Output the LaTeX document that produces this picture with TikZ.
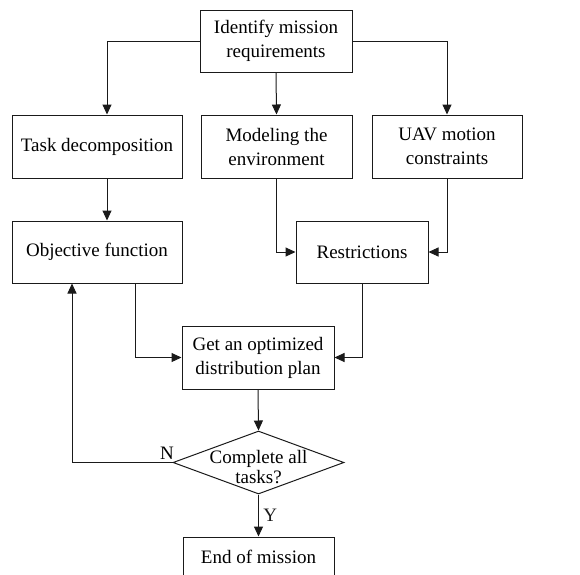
\documentclass[tikz,border=0pt]{standalone}
\usepackage{fontspec}
\setmainfont{Liberation Serif}
\usepackage{tikz}
\usetikzlibrary{arrows.meta,shapes.geometric,calc}
\definecolor{lineblack}{HTML}{1A1A1A}
\tikzset{every node/.append style={font=\fontsize{19}{24}\selectfont}}

\begin{document}
\begin{tikzpicture}[x=1pt,y=-1pt,>={Triangle[length=10pt,width=9pt]},
  box/.style={draw=lineblack,line width=1pt,align=center,inner sep=0pt,minimum height=62pt},
  decision/.style={diamond,draw=lineblack,line width=1pt,inner sep=0pt,minimum width=171pt,minimum height=63pt},
  flow/.style={->,line width=1pt,lineblack}]
  \useasboundingbox (0,0) rectangle (580,574);
  \node[box,minimum width=152pt] (ident) at (276,41) {Identify mission\\requirements};
  \node[box,minimum width=170pt,minimum height=63pt] (task) at (97,146.5) {Task decomposition};
  \node[box,minimum width=151pt,minimum height=63pt] (model) at (276.5,146.5) {Modeling the\\environment};
  \node[box,minimum width=150pt,minimum height=63pt] (uav) at (447,146.5) {UAV motion\\constraints};
  \node[box,minimum width=170pt] (obj) at (97,252) {Objective function};
  \node[box,minimum width=132pt] (restr) at (362,252) {Restrictions};
  \node[box,minimum width=152pt,minimum height=63pt] (plan) at (258,357.5) {Get an optimized\\distribution plan};
  \node[decision,label={[align=center,font=\fontsize{19}{20}\selectfont,yshift=-5pt]center:Complete all\\tasks?}] (dec) at (258.5,462.5) {};
  \node[box,minimum width=151pt,minimum height=40pt] (end) at (258.5,557) {End of mission};
  \coordinate (tasktop) at ([xshift=10pt]task.north);
  \coordinate (taskbot) at ([xshift=10pt]task.south);
  \coordinate (objtop) at ([xshift=10pt]obj.north);
  \coordinate (objout) at ([xshift=38pt]obj.south);
  \coordinate (objin) at ([xshift=-25pt]obj.south);
  \draw[flow] (ident.west) -| (tasktop);
  \draw[flow] (ident.south) -- (model.north);
  \draw[flow] (ident.east) -| (uav.north);
  \draw[flow] (taskbot) -- (objtop);
  \draw[flow] (model.south) |- (restr.west);
  \draw[flow] (uav.south) |- (restr.east);
  \draw[flow] (objout) |- (plan.west);
  \draw[flow] (restr.south) |- (plan.east);
  \draw[flow] (plan.south) -- (dec.north);
  \draw[flow] (dec.west) -| (objin);
  \draw[flow] (dec.south) -- (end.north) node[midway,right,xshift=1pt] {Y};
  \node[above left,xshift=5pt,yshift=-1pt] (nlab) at (dec.west) {N};
\end{tikzpicture}
\end{document}
